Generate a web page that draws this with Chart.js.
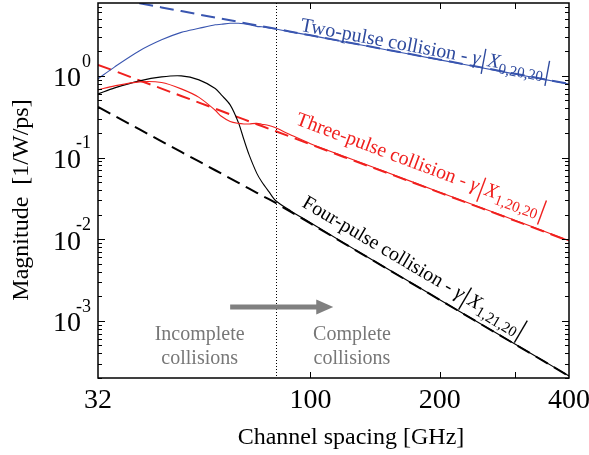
<!DOCTYPE html>
<html>
<head>
<meta charset="utf-8">
<script src="https://cdn.jsdelivr.net/npm/chart.js@4.4.1/dist/chart.umd.min.js"></script>
<style>
  html, body { margin: 0; padding: 0; background: #fff; }
  #wrap { width: 589px; height: 455px; }
</style>
</head>
<body>
<div id="wrap"><canvas id="chart" width="589" height="455"></canvas></div>
<script>
// channel spacing [GHz]
const spacing = [32, 35, 40, 45, 50, 55, 60, 62, 65, 68, 70, 72, 75, 77, 80, 83, 90, 100, 120, 150, 200, 250, 300, 350, 400];

// magnitude [1/W/ps]
const twoPulseAnalytic = [9.64, 8.81, 7.74, 6.89, 6.21, 5.64, 5.18, 5.01, 4.79, 4.58, 4.45, 4.33, 4.16, 4.05, 3.91, 3.77, 3.47, 3.14, 2.62, 2.10, 1.58, 1.27, 1.06, 0.91, 0.80];
const twoPulseSim = [0.92, 1.29, 2.03, 2.76, 3.41, 3.82, 4.22, 4.28, 4.40, 4.40, 4.34, 4.24, 4.04, 3.99, 3.85, 3.74, 3.46, 3.13, 2.61, 2.09, 1.57, 1.26, 1.05, 0.905, 0.795];
const threePulseAnalytic = [1.36, 1.15, 0.878, 0.699, 0.567, 0.471, 0.396, 0.371, 0.338, 0.310, 0.293, 0.277, 0.256, 0.243, 0.225, 0.210, 0.179, 0.145, 0.101, 0.0655, 0.0372, 0.0240, 0.0168, 0.0124, 0.0095];
const threePulseSim = [0.674, 0.754, 0.844, 0.828, 0.693, 0.545, 0.379, 0.320, 0.277, 0.262, 0.258, 0.258, 0.262, 0.256, 0.247, 0.231, 0.189, 0.148, 0.103, 0.0665, 0.0376, 0.0243, 0.0170, 0.0125, 0.0096];
const fourPulseAnalytic = [0.417, 0.323, 0.221, 0.158, 0.117, 0.0896, 0.0699, 0.0637, 0.0557, 0.0490, 0.0451, 0.0416, 0.0370, 0.0343, 0.0309, 0.0278, 0.0216, 0.0156, 0.00883, 0.00442, 0.00181, 0.000906, 0.000515, 0.000319, 0.000211];
const fourPulseSim = [0.602, 0.713, 0.869, 0.972, 1.0, 0.893, 0.70, 0.585, 0.441, 0.265, 0.165, 0.107, 0.064, 0.0505, 0.0382, 0.0296, 0.0222, 0.0159, 0.0089, 0.00445, 0.00182, 0.00091, 0.000518, 0.00032, 0.000212];

// axes
const xTickMarks = [100, 200, 300];
const xTickLabels = [32, 100, 200, 400];
const yTickValues = [1, 0.1, 0.01, 0.001];
const yTickExponents = ['0', '-1', '-2', '-3'];

// collision boundary and annotations
const boundarySpacing = 83;
const arrowFrom = 65, arrowTo = 113, arrowLevel = 1.48e-3;

const SERIF = "'Liberation Serif', 'Times New Roman', serif";
const BLUE = '#3a56b0';
const RED = '#f0201e';
const GREY = '#808080';

const pts = ys => spacing.map((x, i) => ({ x: x, y: ys[i] }));

function line(ys, color, dashed) {
    return {
        data: pts(ys),
        borderColor: color,
        borderWidth: dashed ? 2 : 1.1,
        borderDash: dashed ? [14, 7] : [],
        pointRadius: 0,
        fill: false,
        tension: dashed ? 0 : 0.3
    };
}

// draws a run of differently styled pieces starting at (0,0) in current transform
function drawRich(ctx, parts) {
    let cx = 0;
    parts.forEach(p => {
        ctx.font = p.font;
        ctx.fillText(p.t, cx, p.dy || 0);
        cx += ctx.measureText(p.t).width + (p.gap || 0);
    });
}

function curveLabel(name, sub) {
    return [
        { t: name + ' collision - ', font: `20px ${SERIF}` },
        { t: 'γ', font: `italic 20px ${SERIF}`, gap: 1 },
        { t: '|', font: `28px ${SERIF}`, dy: 3, gap: 1 },
        { t: 'X', font: `italic 20px ${SERIF}` },
        { t: sub, font: `15px ${SERIF}`, dy: 5, gap: 1 },
        { t: '|', font: `28px ${SERIF}`, dy: 3 }
    ];
}

const curveLabels = [
    { parts: curveLabel('Two-pulse', '0,20,20'), color: '#2e4a9e', at: [94.4, 3.56], series: twoPulseAnalytic },
    { parts: curveLabel('Three-pulse', '1,20,20'), color: RED, at: [91.9, 0.258], series: threePulseAnalytic },
    { parts: curveLabel('Four-pulse', '1,21,20'), color: '#000', at: [95.0, 0.0255], series: fourPulseAnalytic }
];

const decorations = {
    id: 'decorations',
    afterDatasetsDraw(chart) {
        const { ctx, chartArea: a, scales } = chart;
        const xs = scales.x, ys = scales.y;
        ctx.save();

        // boundary between incomplete and complete collisions
        const bx = Math.round(xs.getPixelForValue(boundarySpacing)) + 0.5;
        ctx.strokeStyle = '#000';
        ctx.lineWidth = 1;
        ctx.setLineDash([1, 2]);
        ctx.beginPath();
        ctx.moveTo(bx, a.top);
        ctx.lineTo(bx, a.bottom);
        ctx.stroke();
        ctx.setLineDash([]);

        // arrow
        const ax1 = xs.getPixelForValue(arrowFrom), ax2 = xs.getPixelForValue(arrowTo);
        const ay = ys.getPixelForValue(arrowLevel);
        ctx.fillStyle = GREY;
        ctx.fillRect(ax1, ay - 2.5, ax2 - ax1 - 15, 5);
        ctx.beginPath();
        ctx.moveTo(ax2, ay);
        ctx.lineTo(ax2 - 17, ay - 7.5);
        ctx.lineTo(ax2 - 17, ay + 7.5);
        ctx.closePath();
        ctx.fill();

        ctx.font = `20px ${SERIF}`;
        ctx.textAlign = 'center';
        ctx.textBaseline = 'middle';
        ctx.fillStyle = '#777';
        ctx.fillText('Incomplete', xs.getPixelForValue(55.2), ys.getPixelForValue(6.8e-4));
        ctx.fillText('collisions', xs.getPixelForValue(55.2), ys.getPixelForValue(3.4e-4));
        ctx.fillText('Complete', xs.getPixelForValue(124.9), ys.getPixelForValue(6.8e-4));
        ctx.fillText('collisions', xs.getPixelForValue(124.9), ys.getPixelForValue(3.4e-4));

        // curve labels, rotated along their analytic line
        ctx.textAlign = 'left';
        ctx.textBaseline = 'alphabetic';
        curveLabels.forEach(l => {
            const i1 = spacing.indexOf(100), i2 = spacing.indexOf(400);
            const dx = xs.getPixelForValue(400) - xs.getPixelForValue(100);
            const dy = ys.getPixelForValue(l.series[i2]) - ys.getPixelForValue(l.series[i1]);
            ctx.save();
            ctx.translate(xs.getPixelForValue(l.at[0]), ys.getPixelForValue(l.at[1]));
            ctx.rotate(Math.atan2(dy, dx));
            ctx.fillStyle = l.color;
            drawRich(ctx, l.parts);
            ctx.restore();
        });

        // frame
        ctx.strokeStyle = '#000';
        ctx.lineWidth = 1.5;
        ctx.strokeRect(a.left, a.top, a.right - a.left, a.bottom - a.top);

        // y ticks, major and minor, inside on both sides
        ctx.lineWidth = 1;
        for (let e = -4; e <= 0; e++) {
            for (let k = 1; k <= 9; k++) {
                const v = k * Math.pow(10, e);
                if (v < ys.min || v > ys.max) continue;
                const py = Math.round(ys.getPixelForValue(v)) + 0.5;
                const len = k === 1 ? 7 : 4;
                ctx.beginPath();
                ctx.moveTo(a.left, py); ctx.lineTo(a.left + len, py);
                ctx.moveTo(a.right, py); ctx.lineTo(a.right - len, py);
                ctx.stroke();
            }
        }
        // x ticks
        xTickMarks.forEach(v => {
            const px = Math.round(xs.getPixelForValue(v)) + 0.5;
            ctx.beginPath();
            ctx.moveTo(px, a.bottom); ctx.lineTo(px, a.bottom - 6);
            ctx.moveTo(px, a.top); ctx.lineTo(px, a.top + 6);
            ctx.stroke();
        });

        // tick labels
        ctx.fillStyle = '#000';
        ctx.textBaseline = 'middle';
        ctx.textAlign = 'center';
        ctx.font = `28px ${SERIF}`;
        xTickLabels.forEach(v => ctx.fillText(String(v), xs.getPixelForValue(v), a.bottom + 23));

        ctx.textAlign = 'right';
        yTickValues.forEach((v, i) => {
            const py = ys.getPixelForValue(v);
            ctx.font = `28px ${SERIF}`;
            ctx.fillText('10', a.left - 17, py + 3);
            ctx.font = `18px ${SERIF}`;
            ctx.fillText(yTickExponents[i], a.left - 7, py - 14);
        });

        // axis titles
        ctx.font = `24px ${SERIF}`;
        ctx.textAlign = 'center';
        ctx.fillText('Channel spacing [GHz]', 351, a.bottom + 60);
        ctx.save();
        ctx.translate(22, 200);
        ctx.rotate(-Math.PI / 2);
        ctx.fillText('Magnitude  [1/W/ps]', 0, 0);
        ctx.restore();

        ctx.restore();
    }
};

new Chart(document.getElementById('chart'), {
    type: 'line',
    data: {
        datasets: [
            line(twoPulseSim, BLUE, false),
            line(threePulseSim, RED, false),
            line(fourPulseSim, '#000', false),
            line(twoPulseAnalytic, BLUE, true),
            line(threePulseAnalytic, RED, true),
            line(fourPulseAnalytic, '#000', true)
        ]
    },
    options: {
        responsive: false,
        animation: false,
        layout: { padding: { left: 98, right: 20, top: 3, bottom: 77 } },
        scales: {
            x: { type: 'logarithmic', min: 32, max: 400, display: false },
            y: { type: 'logarithmic', min: 2e-4, max: 7.8, display: false }
        },
        plugins: { legend: { display: false }, tooltip: { enabled: false } }
    },
    plugins: [decorations]
});
</script>
</body>
</html>
